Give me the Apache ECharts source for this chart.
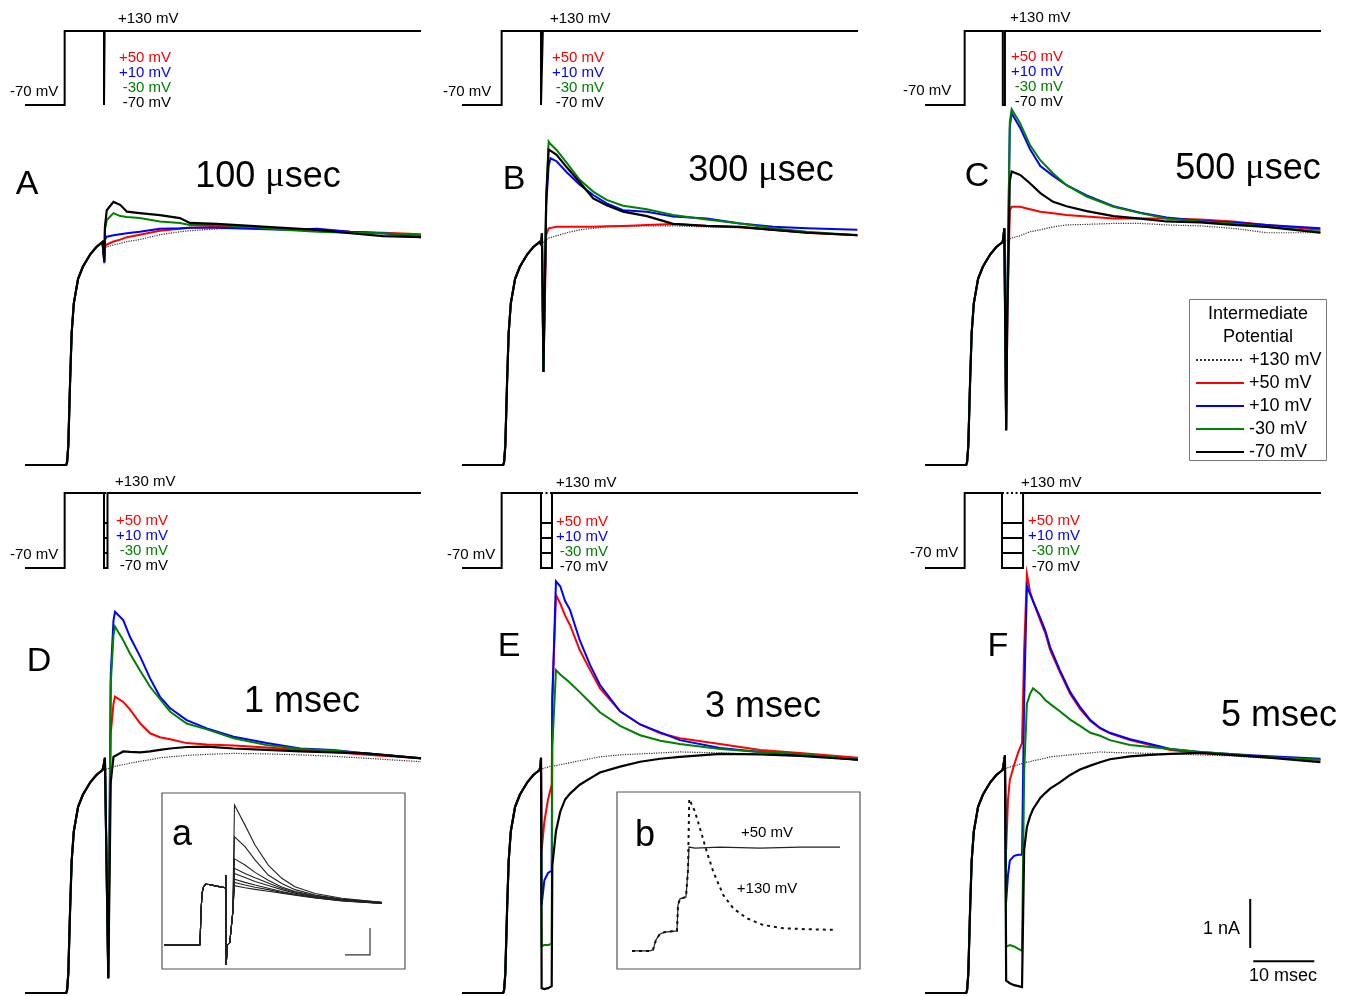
<!DOCTYPE html>
<html><head><meta charset="utf-8">
<script src="https://cdn.jsdelivr.net/npm/echarts@6/dist/echarts.min.js"></script>
<style>html,body{margin:0;padding:0;background:#fff}#c{width:1357px;height:996px}</style>
</head><body><div id="c"></div>
<script>
// ---------------- DATA (time in ms from step onset, current in nA above baseline) ----------------
// shared activation phase (identical in all panels, before the interruption)
const actT = [-6.5, 0.25, 0.4, 0.6, 0.9, 1.15, 1.5, 2.2, 3.0, 4.2, 5.2, 6.2];
const actI = [0, 0, 0.06, 0.4, 1.75, 2.7, 3.3, 3.8, 4.05, 4.3, 4.45, 4.55];

// Panel A (100 usec)
const A_t     = [6.5, 6.6, 6.9, 8.0, 9.1, 10.2, 12.3, 15.6, 18.9, 20.5, 24.9, 30.4, 35.8, 41.4, 46.8, 52.2, 58.4];
const A_dot   = [4.42, 4.43, 4.45, 4.49, 4.52, 4.56, 4.6, 4.7, 4.76, 4.78, 4.82, 4.84, 4.82, 4.8, 4.76, 4.72, 4.68];
const A_red   = [4.2, 4.45, 4.5, 4.56, 4.6, 4.65, 4.7, 4.78, 4.82, 4.84, 4.86, 4.86, 4.82, 4.8, 4.76, 4.74, 4.71];
const A_blue  = [4.12, 4.6, 4.66, 4.69, 4.71, 4.73, 4.76, 4.82, 4.83, 4.84, 4.84, 4.82, 4.8, 4.82, 4.76, 4.73, 4.65];
const A_green = [4.15, 4.8, 5.0, 5.14, 5.08, 5.06, 5.04, 4.97, 4.94, 4.9, 4.9, 4.86, 4.8, 4.76, 4.74, 4.73, 4.69];
const A_black = [4.15, 4.86, 5.2, 5.37, 5.31, 5.17, 5.14, 5.10, 5.04, 4.94, 4.92, 4.88, 4.84, 4.8, 4.73, 4.67, 4.65];

// Panel B (300 usec)
const B_t     = [6.5, 6.6, 6.85, 7.3, 7.7, 8.0, 9.0, 10.7, 12.8, 15.0, 17.2, 19.9, 23.8, 28.1, 33.6, 39.1, 44.5, 50.0, 58.3];
const B_dot   = [4.5, 4.52, 4.55, 4.6, 4.63, 4.65, 4.68, 4.74, 4.8, 4.83, 4.86, 4.87, 4.88, 4.88, 4.86, 4.84, 4.79, 4.74, 4.69];
const B_red   = [4.5, 4.73, 1.9, 4.7, 4.83, 4.84, 4.86, 4.86, 4.86, 4.86, 4.87, 4.88, 4.9, 4.92, 4.88, 4.85, 4.8, 4.74, 4.69];
const B_blue  = [4.5, 4.73, 1.9, 5.3, 6.1, 6.26, 6.2, 5.97, 5.72, 5.51, 5.34, 5.2, 5.17, 5.07, 5.03, 4.93, 4.86, 4.83, 4.8];
const B_green = [4.5, 4.73, 1.9, 5.5, 6.6, 6.55, 6.43, 6.16, 5.82, 5.58, 5.41, 5.29, 5.22, 5.1, 5.01, 4.93, 4.83, 4.76, 4.69];
const B_black = [4.5, 4.73, 1.9, 5.4, 6.44, 6.42, 6.33, 6.07, 5.77, 5.44, 5.3, 5.17, 5.08, 4.92, 4.88, 4.86, 4.8, 4.74, 4.69];

// Panel C (500 usec)
const C_t     = [6.3, 6.5, 6.8, 7.0, 7.4, 7.7, 9.1, 10.7, 12.4, 14.5, 16.7, 20.0, 24.4, 28.8, 33.1, 38.6, 44.0, 49.5, 58.3];
const C_dot   = [4.56, 4.57, 4.59, 4.6, 4.62, 4.63, 4.68, 4.76, 4.8, 4.86, 4.9, 4.91, 4.93, 4.93, 4.9, 4.88, 4.83, 4.74, 4.74];
const C_red   = [4.6, 4.83, 0.71, 3.0, 5.2, 5.27, 5.27, 5.22, 5.17, 5.14, 5.1, 5.07, 5.03, 5.03, 5.03, 5.01, 4.97, 4.9, 4.8];
const C_blue  = [4.6, 4.83, 0.71, 3.5, 6.9, 7.18, 6.88, 6.45, 6.1, 5.9, 5.71, 5.5, 5.28, 5.15, 5.05, 4.98, 4.95, 4.9, 4.83];
const C_green = [4.6, 4.83, 0.71, 3.5, 7.0, 7.26, 6.97, 6.53, 6.22, 5.95, 5.71, 5.48, 5.27, 5.14, 5.03, 4.97, 4.93, 4.86, 4.76];
const C_black = [4.6, 4.83, 0.71, 3.2, 5.8, 5.99, 5.92, 5.75, 5.55, 5.37, 5.28, 5.18, 5.08, 5.03, 4.97, 4.95, 4.9, 4.86, 4.74];

// Panel D (1 msec)
const D_t     = [6.35, 6.6, 7.15, 7.55, 8.0, 8.25, 9.6, 10.7, 12.4, 14.0, 15.6, 17.3, 20.0, 23.3, 27.7, 33.1, 38.6, 44.0, 49.5, 58.4];
const D_dot   = [4.55, 4.56, 4.58, 4.6, 4.62, 4.63, 4.66, 4.69, 4.73, 4.76, 4.8, 4.82, 4.85, 4.87, 4.89, 4.88, 4.86, 4.83, 4.79, 4.72];
const D_red   = [4.62, 4.8, 0.3, 5.3, 5.9, 6.05, 5.94, 5.79, 5.5, 5.3, 5.22, 5.18, 5.1, 5.07, 5.05, 5.01, 4.96, 4.92, 4.86, 4.79];
const D_blue  = [4.62, 4.8, 0.3, 6.5, 7.6, 7.78, 7.61, 7.27, 6.86, 6.42, 6.05, 5.81, 5.57, 5.4, 5.23, 5.1, 4.99, 4.96, 4.89, 4.79];
const D_green = [4.62, 4.8, 0.3, 6.3, 7.3, 7.48, 7.2, 6.93, 6.57, 6.25, 6.0, 5.74, 5.5, 5.38, 5.2, 5.06, 4.98, 4.95, 4.89, 4.79];
const D_black = [4.62, 4.8, 0.3, 4.3, 4.82, 4.85, 4.93, 4.92, 4.91, 4.93, 4.96, 4.99, 5.02, 5.03, 4.99, 4.96, 4.93, 4.91, 4.89, 4.79];

// Panel E (3 msec)
const E_t     = [6.35, 6.45, 6.55, 7.0, 7.6, 8.2, 8.3, 8.9, 9.6, 10.4, 11.2, 12.8, 14.5, 16.1, 19.4, 22.7, 26.0, 29.2, 35.8, 42.4, 48.9, 58.4];
const E_dot   = [4.55, 4.56, 4.57, 4.59, 4.61, 4.63, 4.63, 4.64, 4.66, 4.68, 4.7, 4.74, 4.78, 4.82, 4.86, 4.88, 4.9, 4.92, 4.9, 4.87, 4.84, 4.76];
const E_red   = [4.62, 4.8, 2.9, 3.5, 3.95, 4.25, 6.0, 8.12, 7.95, 7.7, 7.51, 7.0, 6.59, 6.22, 5.75, 5.48, 5.3, 5.2, 5.08, 4.96, 4.9, 4.8];
const E_blue  = [4.62, 4.8, 1.8, 2.3, 2.45, 2.5, 6.0, 8.4, 8.3, 8.0, 7.82, 7.2, 6.69, 6.29, 5.75, 5.48, 5.32, 5.16, 5.0, 4.92, 4.86, 4.76];
const E_green = [4.62, 4.8, 0.95, 0.98, 0.98, 1.0, 5.0, 6.59, 6.5, 6.42, 6.33, 6.14, 5.93, 5.73, 5.45, 5.26, 5.15, 5.08, 4.98, 4.92, 4.88, 4.76];
const E_black = [4.62, 4.8, 0.1, 0.08, 0.1, 0.14, 2.6, 3.3, 3.7, 3.95, 4.07, 4.25, 4.38, 4.5, 4.62, 4.72, 4.78, 4.82, 4.88, 4.87, 4.84, 4.76];

// Panel F (5 msec)
const F_t     = [6.3, 6.6, 6.8, 7.1, 7.4, 8.1, 8.8, 9.4, 9.6, 9.75, 10.2, 10.7, 11.2, 12.4, 13.2, 14.0, 15.6, 17.3, 18.9, 20.6, 22.2, 23.8, 27.1, 30.4, 33.7, 38.6, 43.5, 48.4, 58.3];
const F_dot   = [4.55, 4.56, 4.58, 4.6, 4.62, 4.64, 4.66, 4.68, 4.69, 4.7, 4.71, 4.72, 4.74, 4.77, 4.79, 4.82, 4.84, 4.86, 4.88, 4.9, 4.92, 4.91, 4.9, 4.89, 4.88, 4.86, 4.84, 4.8, 4.76];
const F_red   = [4.6, 4.85, 2.92, 3.94, 4.35, 4.65, 4.92, 5.1, 5.12, 7.0, 8.55, 8.2, 8.0, 7.6, 7.35, 7.0, 6.55, 6.1, 5.8, 5.55, 5.4, 5.3, 5.16, 5.06, 4.96, 4.9, 4.86, 4.82, 4.76];
const F_blue  = [4.6, 4.85, 1.86, 2.4, 2.7, 2.8, 2.82, 2.82, 2.82, 6.0, 8.3, 8.15, 8.0, 7.65, 7.4, 7.06, 6.59, 6.14, 5.84, 5.57, 5.41, 5.31, 5.18, 5.08, 4.98, 4.92, 4.88, 4.84, 4.78];
const F_green = [4.6, 4.85, 0.94, 0.98, 0.98, 0.95, 0.9, 0.86, 0.84, 4.5, 5.9, 6.1, 6.22, 6.1, 5.98, 5.9, 5.75, 5.58, 5.45, 5.31, 5.25, 5.16, 5.06, 5.02, 4.98, 4.92, 4.88, 4.82, 4.76];
const F_black = [4.6, 4.85, 0.25, 0.22, 0.2, 0.16, 0.14, 0.12, 0.12, 2.92, 3.39, 3.6, 3.75, 3.98, 4.08, 4.17, 4.3, 4.45, 4.56, 4.64, 4.71, 4.77, 4.83, 4.86, 4.88, 4.9, 4.86, 4.82, 4.71];

// Voltage protocols (mV / ms)
const holdV = -70, testV = 130;
const interV = [50, 10, -30, -70];
const interLabels = ['+50 mV', '+10 mV', '-30 mV', '-70 mV'];
const gapStart = [6.45, 6.45, 6.25, 6.45, 6.45, 6.12];
const gapEnd   = [6.55, 6.75, 6.6, 7.02, 8.25, 9.57];
const protoEnd = 58.4;
const panelTitles = ['100 {m|\u03bc}sec', '300 {m|\u03bc}sec', '500 {m|\u03bc}sec', '1 msec', '3 msec', '5 msec'];
const panelLetters = ['A', 'B', 'C', 'D', 'E', 'F'];
const traceNames = ['+130 mV', '+50 mV', '+10 mV', '-30 mV', '-70 mV'];

// Scale bar (10 msec, 1 nA) drawn in panel F coordinates
const scaleV_t = [46.8, 46.8], scaleV_I = [0.92, 1.92];
const scaleH_t = [47.3, 57.3], scaleH_I = [0.65, 0.65];

// Inset a: interrupted traces family
const aPre_t = [-4, 10.3, 10.5, 10.8, 11.2, 11.8, 12.6, 14.0, 17.0, 20.7, 20.75, 20.85, 21.4, 22.3, 23.0, 23.5];
const aPre_I = [0, 0, 0.3, 1.2, 1.9, 2.15, 2.25, 2.24, 2.18, 2.12, 2.59, -0.74, 0.0, 0.08, 0.15, 1.2];
const aPost_t = [24.2, 28.4, 32.4, 37.7, 43.1, 48.4, 56.4, 67.1, 83.1];
const a1 = [5.19, 4.44, 3.7, 2.96, 2.47, 2.16, 1.91, 1.73, 1.58];
const a2 = [4.01, 3.64, 3.15, 2.59, 2.28, 2.05, 1.85, 1.7, 1.58];
const a3 = [3.19, 2.96, 2.69, 2.4, 2.15, 1.98, 1.83, 1.68, 1.57];
const a4 = [2.84, 2.65, 2.49, 2.3, 2.1, 1.95, 1.8, 1.67, 1.56];
const a5 = [2.65, 2.5, 2.35, 2.2, 2.05, 1.92, 1.78, 1.66, 1.55];
const a6 = [2.44, 2.32, 2.22, 2.1, 1.98, 1.88, 1.76, 1.65, 1.55];
const a7 = [2.32, 2.22, 2.14, 2.05, 1.95, 1.86, 1.75, 1.64, 1.54];
const a8 = [2.2, 2.12, 2.06, 1.99, 1.92, 1.84, 1.74, 1.63, 1.54];
const aScale_t = [68.4, 78.4, 78.4], aScale_I = [-0.37, -0.37, 0.63];

// Inset b: +50 mV vs +130 mV
const b50_t = [0, 7.2, 8.4, 9.6, 11.2, 13.2, 18.0, 18.4, 19.2, 21.6, 22.4, 22.8, 25.2, 35.2, 51.2, 67.2, 83.2];
const b50_I = [0, 0, 0.04, 0.41, 0.63, 0.7, 0.74, 1.7, 1.93, 2.0, 3.0, 3.85, 3.81, 3.85, 3.81, 3.85, 3.85];
const b130_t = [0, 7.2, 8.4, 9.6, 11.2, 13.2, 18.0, 18.4, 19.2, 21.6, 22.4, 22.9, 25.2, 27.2, 29.9, 32.5, 36.5, 40.5, 45.9, 52.5, 60.5, 71.2, 81.9];
const b130_I = [0, 0, 0.04, 0.41, 0.63, 0.7, 0.74, 1.7, 1.93, 2.0, 3.0, 5.63, 5.16, 4.54, 3.68, 2.94, 2.07, 1.58, 1.21, 0.96, 0.84, 0.8, 0.78];

// ---------------- CHART ----------------
const FONT = '"Liberation Sans", Arial, sans-serif';
const COLORS = ['#333333', '#ff0000', '#0000ff', '#008000', '#000000'];
const zip = (t, v) => t.map((x, i) => [x, v[i]]);

const panelData = [
  [A_t, A_dot, A_red, A_blue, A_green, A_black],
  [B_t, B_dot, B_red, B_blue, B_green, B_black],
  [C_t, C_dot, C_red, C_blue, C_green, C_black],
  [D_t, D_dot, D_red, D_blue, D_green, D_black],
  [E_t, E_dot, E_red, E_blue, E_green, E_black],
  [F_t, F_dot, F_red, F_blue, F_green, F_black]
];

const colLeft = [25, 462, 925];
const grids = [], xAxes = [], yAxes = [], series = [];
function addGrid(g, xmin, xmax, ymin, ymax) {
  const idx = grids.length;
  grids.push(g);
  xAxes.push({ gridIndex: idx, type: 'value', min: xmin, max: xmax, show: false });
  yAxes.push({ gridIndex: idx, type: 'value', min: ymin, max: ymax, show: false });
  return idx;
}
const protoGrid = [], traceGrid = [];
for (let p = 0; p < 6; p++) {
  const row = p < 3 ? 0 : 1;
  protoGrid.push(addGrid({ left: colLeft[p % 3], width: 396, top: row ? 489.25 : 27.3, height: row ? 82.5 : 81.4 }, -6.5, 58.4, -80, 140));
}
for (let p = 0; p < 6; p++) {
  const row = p < 3 ? 0 : 1;
  traceGrid.push(addGrid({ left: colLeft[p % 3], width: 396, top: row ? 552 : 73, height: row ? 443.94 : 416.5 },
    -6.5, 58.4, row ? -0.06 : -0.5, row ? 9 : 8));
}
const insetA = addGrid({ left: 162, top: 793, width: 243, height: 176, show: true, borderColor: '#555', borderWidth: 1.2, backgroundColor: '#fff' }, -4.8, 92.4, -0.89, 5.63);
const insetB = addGrid({ left: 617, top: 792, width: 243, height: 177, show: true, borderColor: '#555', borderWidth: 1.2, backgroundColor: '#fff' }, -6, 91.2, -0.67, 5.89);

function line(gi, name, data, color, width, type, z) {
  series.push({
    type: 'line', name, xAxisIndex: gi, yAxisIndex: gi, data,
    symbol: 'none', showSymbol: false, silent: true, animation: false, z: z || 2,
    lineStyle: { color, width, type: type || 'solid', cap: 'butt', join: 'miter' },
    itemStyle: { color }
  });
}

// protocols
for (let p = 0; p < 6; p++) {
  const g0 = gapStart[p], g1 = gapEnd[p];
  const t = [-6.5, 0, 0, g0, g0, g1, g1, protoEnd];
  const v = [holdV, holdV, testV, testV, holdV, holdV, testV, testV];
  line(protoGrid[p], 'protocol', zip(t, v), '#000', 2);
  if (p >= 3) {
    for (let k = 0; k < 3; k++) line(protoGrid[p], 'protocol', zip([g0, g1], [interV[k], interV[k]]), '#000', 2);
    line(protoGrid[p], 'protocol', zip([g0, g1], [testV, testV]), '#000', 2, [2, 2.5]);
  }
}
// traces
const pre = zip(actT, actI);
for (let p = 0; p < 6; p++) {
  const d = panelData[p];
  for (let k = 0; k < 5; k++) {
    const isDot = k === 0;
    line(traceGrid[p], traceNames[k], pre.concat(zip(d[0], d[k + 1])), COLORS[k],
      isDot ? 1.2 : (k === 4 ? 2.2 : 2), isDot ? 'dotted' : 'solid', isDot ? 2 : 3);
  }
}
// scale bars
line(traceGrid[5], 'scale', zip(scaleV_t, scaleV_I), '#000', 2);
line(traceGrid[5], 'scale', zip(scaleH_t, scaleH_I), '#000', 2);
// inset a
const aPre = zip(aPre_t, aPre_I);
[a1, a2, a3, a4, a5, a6, a7, a8].forEach(a => line(insetA, 'inset', aPre.concat(zip(aPost_t, a)), '#222', 1.1, 'solid', 5));
line(insetA, 'inset', zip(aScale_t, aScale_I), '#333', 1.2, 'solid', 5);
// inset b
line(insetB, 'inset', zip(b50_t, b50_I), '#222', 1.2, 'solid', 5);
line(insetB, 'inset', zip(b130_t, b130_I), '#111', 2, [3, 4], 5);

// ---------------- TEXT ----------------
const graphics = [];
function txt(x, y, text, size, color, align, extra) {
  graphics.push({
    type: 'text', x, y, z: 10, silent: true,
    style: Object.assign({ text, fontSize: size, fontFamily: FONT, fill: color, align: align || 'left', verticalAlign: 'middle',
      textAlign: align || 'left', textVerticalAlign: 'middle' }, extra || {})
  });
}
const protoLbl = [
  { top: [118, 19], hold: [10, 92], right: 171, ys: [58, 73, 88, 103] },
  { top: [550, 19], hold: [443, 92], right: 604, ys: [58, 73, 88, 103] },
  { top: [1010, 18], hold: [903, 91], right: 1063, ys: [57, 72, 87, 102] },
  { top: [115, 482], hold: [10, 555], right: 168, ys: [521, 536, 551, 566] },
  { top: [556, 483], hold: [447, 555], right: 608, ys: [522, 537, 552, 567] },
  { top: [1021, 483], hold: [910, 553], right: 1080, ys: [521, 536, 551, 567] }
];
protoLbl.forEach(L => {
  txt(L.top[0], L.top[1], '+130 mV', 15, '#000', 'left');
  txt(L.hold[0], L.hold[1], '-70 mV', 15, '#000', 'left');
  interLabels.forEach((s, k) => txt(L.right, L.ys[k], s, 15, COLORS[k + 1], 'right'));
});
const letterPos = [[27, 185], [514, 180], [977, 177], [39, 662], [509, 647], [998, 647]];
const titlePos = [[268, 177], [761, 171], [1248, 169], [302, 702], [763, 707], [1279, 716]];
for (let p = 0; p < 6; p++) {
  txt(letterPos[p][0], letterPos[p][1], panelLetters[p], 34, '#000', 'center');
  txt(titlePos[p][0], titlePos[p][1], panelTitles[p], 36, '#000', 'center',
    { rich: { m: { fontFamily: '"Liberation Serif", "DejaVu Serif", serif', fontSize: 36, fill: '#000' } } });
}
txt(182, 835, 'a', 36, '#000', 'center');
txt(645, 836, 'b', 36, '#000', 'center');
txt(767, 833, '+50 mV', 15, '#000', 'center');
txt(767, 889, '+130 mV', 15, '#000', 'center');
txt(1240, 929, '1 nA', 18, '#000', 'right');
txt(1283, 976, '10 msec', 18, '#000', 'center');
graphics.push({ type: 'rect', z: 1, silent: true, shape: { x: 1189.5, y: 299.5, width: 137, height: 161 }, style: { fill: '#fff', stroke: '#777', lineWidth: 1 } });
txt(1258, 314, 'Intermediate', 18, '#000', 'center');
txt(1258, 337, 'Potential', 18, '#000', 'center');

const chart = echarts.init(document.getElementById('c'), null, { renderer: 'canvas' });
chart.setOption({
  animation: false,
  backgroundColor: '#fff',
  grid: grids, xAxis: xAxes, yAxis: yAxes, series,
  legend: {
    data: traceNames, orient: 'vertical', left: 1195, top: 351, padding: 0,
    itemWidth: 48, itemHeight: 14, itemGap: 5, selectedMode: false, z: 11,
    itemStyle: { opacity: 0, borderWidth: 0 },
    textStyle: { fontSize: 18, fontFamily: FONT, color: '#000', lineHeight: 18 }
  },
  graphic: graphics
});
</script></body></html>
